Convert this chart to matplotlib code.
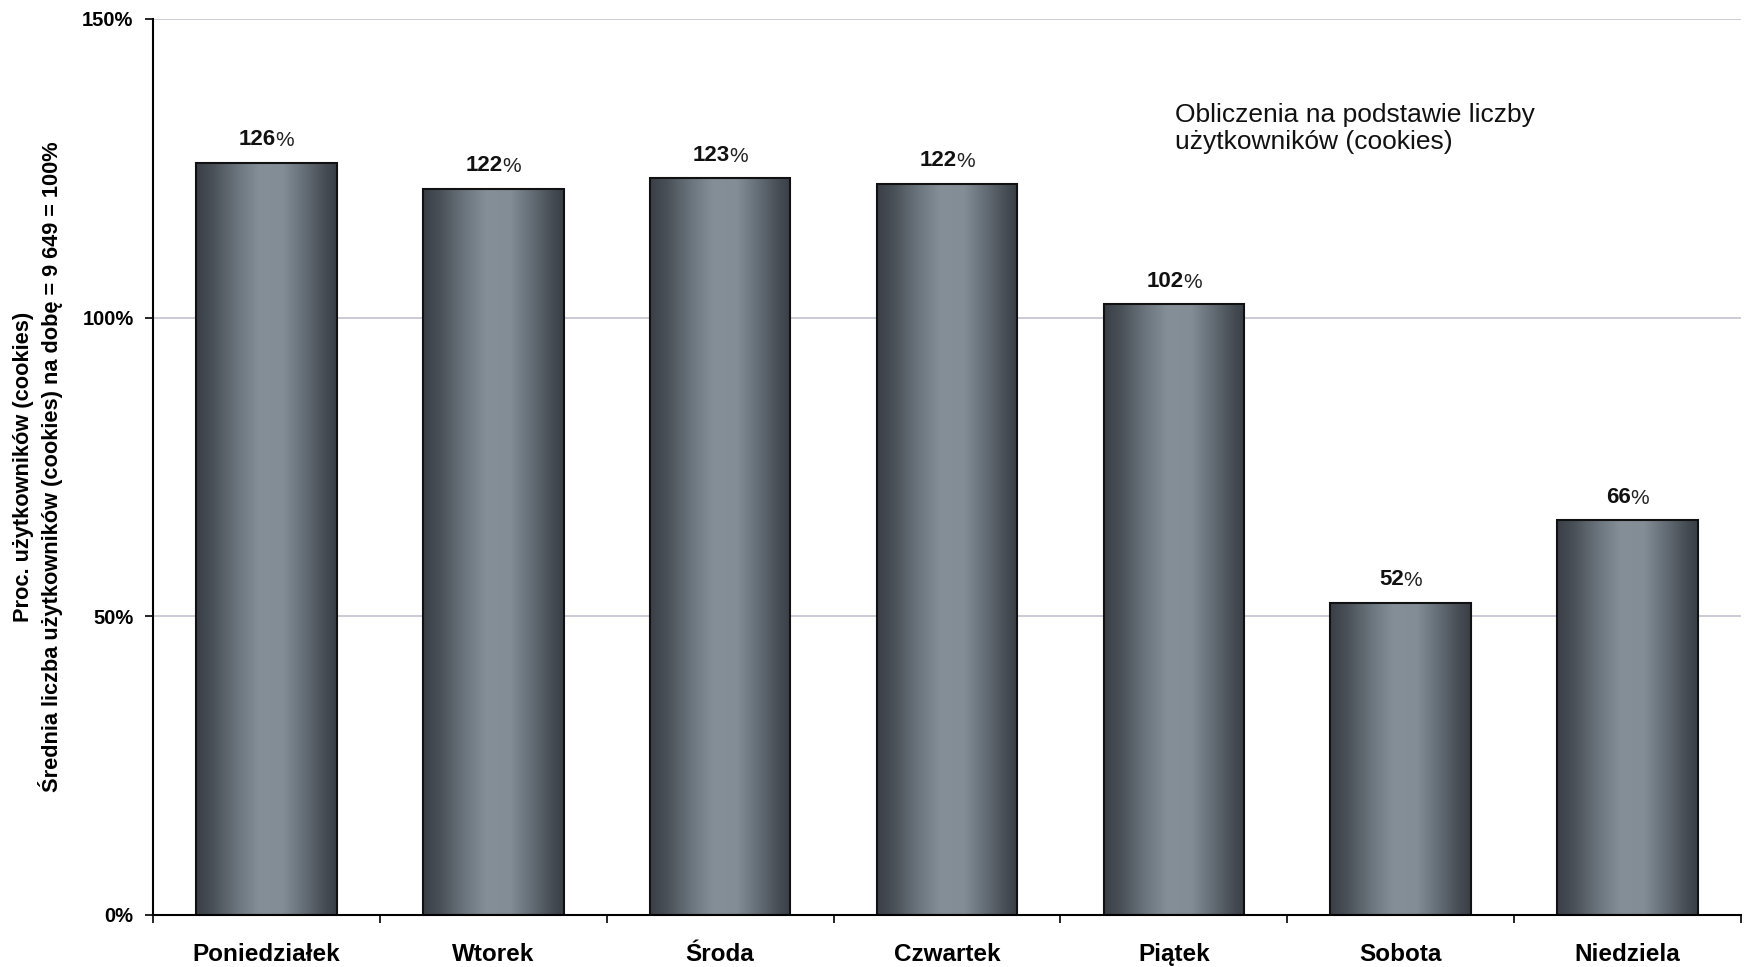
import matplotlib
matplotlib.use("Agg")
import matplotlib.pyplot as plt
import numpy as np
from matplotlib.colors import LinearSegmentedColormap
from matplotlib.patches import Rectangle
from matplotlib.transforms import offset_copy

days = ["Poniedziałek", "Wtorek", "Środa", "Czwartek", "Piątek", "Sobota", "Niedziela"]
values = [125.9, 121.6, 123.3, 122.4, 102.2, 52.3, 66.1]
value_labels = ["126", "122", "123", "122", "102", "52", "66"]
yticks = [0, 50, 100, 150]
ytick_labels = ["0%", "50%", "100%", "150%"]
ylabel = "Proc. użytkowników (cookies)\nŚrednia liczba użytkowników (cookies) na dobę = 9 649 = 100%"
note = "Obliczenia na podstawie liczby\nużytkowników (cookies)"

NARROW = ["Liberation Sans Narrow", "Liberation Sans", "DejaVu Sans"]
ARIAL = ["Liberation Sans", "DejaVu Sans"]

fig = plt.figure(figsize=(17.5, 9.67), dpi=100)
ax = fig.add_axes([0.0874, 0.0538, 0.9075, 0.9266])

cmap = LinearSegmentedColormap.from_list("bar", [
    (0.0, "#3a3f47"), (0.12, "#4a5058"), (0.3, "#6c767e"), (0.45, "#858f97"),
    (0.62, "#838d95"), (0.78, "#626b73"), (0.92, "#464c54"), (1.0, "#3a3f47")])
grad = np.linspace(0, 1, 256).reshape(1, -1)

bw = 0.62
for i, v in enumerate(values):
    x0 = i - bw / 2
    im = ax.imshow(grad, cmap=cmap, aspect="auto", extent=[x0, x0 + bw, 0, v],
                   interpolation="bilinear", zorder=2)
    rect = Rectangle((x0, 0), bw, v, facecolor="none", edgecolor="#111111", lw=1.5, zorder=3)
    ax.add_patch(rect)
    im.set_clip_path(rect)

ax.set_xlim(-0.5, len(days) - 0.5)
ax.set_ylim(0, 150)
ax.set_yticks(yticks)
ax.set_yticklabels(ytick_labels, fontfamily=NARROW, fontweight="bold", fontsize=14.5)
ax.set_xticks(range(len(days)))
ax.set_xticklabels(days, fontfamily=NARROW, fontweight="bold", fontsize=17.5)
ax.set_xticks(np.arange(-0.5, len(days), 1.0), minor=True)
ax.tick_params(axis="x", which="major", length=0, pad=20)
ax.tick_params(axis="x", which="minor", length=6, width=1.2, color="black", direction="out")
ax.tick_params(axis="y", length=6, width=1.2, direction="out", pad=8)

for s in ["top", "right"]:
    ax.spines[s].set_visible(False)
for s in ["left", "bottom"]:
    ax.spines[s].set_linewidth(1.5)
    ax.spines[s].set_color("black")
    ax.spines[s].set_zorder(4)

for y in yticks[1:]:
    ax.axhline(y, color="#c6c6d6", lw=1.3, zorder=1)

ax.set_ylabel(ylabel, fontfamily=NARROW, fontweight="bold", fontsize=15.7,
              linespacing=1.2, labelpad=14)

# value labels: bold number + lighter percent sign
fig.canvas.draw()
renderer = fig.canvas.get_renderer()
for i, (v, lab) in enumerate(zip(values, value_labels)):
    t1 = ax.text(i, v, lab, ha="left", va="bottom", fontfamily=ARIAL,
                 fontweight="bold", fontsize=16, color="#111111",
                 transform=offset_copy(ax.transData, fig=fig, x=0, y=9, units="points"))
    t2 = ax.text(i, v, "%", ha="left", va="bottom", fontfamily=ARIAL,
                 fontweight="normal", fontsize=15, color="#222222",
                 transform=offset_copy(ax.transData, fig=fig, x=0, y=9, units="points"))
    w1 = t1.get_window_extent(renderer).width
    w2 = t2.get_window_extent(renderer).width
    gap = -0.5
    tot = w1 + w2 + gap
    dx1 = -tot / 2
    t1.set_transform(offset_copy(ax.transData, fig=fig, x=dx1 * 72 / fig.dpi, y=9, units="points"))
    t2.set_transform(offset_copy(ax.transData, fig=fig, x=(dx1 + w1 + gap) * 72 / fig.dpi, y=9, units="points"))

fig.text(0.6714, 0.8936, note, fontfamily=ARIAL, fontsize=19, va="top", ha="left",
         linespacing=1.18, color="#111111")

fig.savefig("out.png", dpi=100, facecolor="white")
